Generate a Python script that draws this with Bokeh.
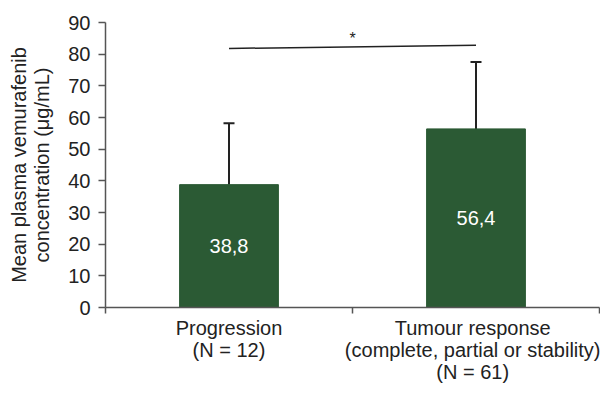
from bokeh.plotting import figure
from bokeh.models import FixedTicker, Range1d, Whisker, TeeHead, ColumnDataSource
from bokeh.core.properties import value
from bokeh.embed import file_html
from bokeh.resources import INLINE

# ---- data ----
categories = ["Progression", "Tumour response"]
tick_labels = ["Progression\n(N = 12)",
               "Tumour response\n(complete, partial or stability)\n(N = 61)"]
means = [38.8, 56.4]
err_upper = [58.2, 77.5]
value_labels = ["38,8", "56,4"]
sig_y = [81.8, 82.8]
sig_star_y = [85.0]
sig_label = ["*"]
y_ticks = [0, 10, 20, 30, 40, 50, 60, 70, 80, 90]

FONT = "Liberation Sans"
BAR = "#2b5a34"
INK = "#222222"
AX = "#555555"

xs = [i + 0.5 for i in range(len(categories))]
bounds = list(range(len(categories) + 1))

p = figure(width=600, height=385, output_backend="svg", toolbar_location=None,
           x_range=Range1d(0, len(categories)), y_range=Range1d(0, 90),
           min_border_left=105, min_border_right=1, min_border_top=22,
           min_border_bottom=10)
p.outline_line_color = None
p.xgrid.visible = False
p.ygrid.visible = False
p.background_fill_color = "white"
p.border_fill_color = "white"

src = ColumnDataSource(dict(x=xs, top=means, upper=err_upper,
                            mid=[m / 2 for m in means], lab=value_labels))

p.vbar(x="x", top="top", width=0.4, source=src, fill_color=BAR, line_color=BAR)

wh = Whisker(base="x", lower="top", upper="upper", source=src,
             upper_head=TeeHead(size=11, line_width=2, line_color=INK),
             lower_head=None, line_width=2, line_color=INK)
p.add_layout(wh)

p.text(x="x", y="mid", text="lab", source=src, text_color="white",
       text_font=value(FONT), text_font_size="20px",
       text_align="center", text_baseline="middle")

# significance bracket
p.line(x=xs, y=sig_y, line_color=INK, line_width=1.5)
p.text(x=[sum(xs) / len(xs)], y=sig_star_y, text=sig_label, text_color=INK,
       text_font=value(FONT), text_font_size="16px",
       text_align="center", text_baseline="middle")

# y axis
ya = p.yaxis[0]
ya.ticker = FixedTicker(ticks=y_ticks)
ya.axis_label = "Mean plasma vemurafenib\nconcentration (\u03bcg/mL)"
ya.axis_label_text_font = FONT
ya.axis_label_text_font_size = "20px"
ya.axis_label_text_font_style = "normal"
ya.axis_label_text_color = INK
ya.axis_label_text_line_height = 1.05
ya.axis_label_standoff = 12
ya.major_label_text_font = FONT
ya.major_label_text_font_size = "20px"
ya.major_label_text_color = INK
ya.major_label_standoff = 8
ya.axis_line_color = AX
ya.axis_line_width = 1.5
ya.major_tick_line_color = AX
ya.major_tick_line_width = 1.5
ya.major_tick_out = 7
ya.major_tick_in = 0
ya.minor_tick_line_color = None

# x axis
xa = p.xaxis[0]
xa.ticker = FixedTicker(ticks=xs, minor_ticks=bounds)
xa.major_label_overrides = {x: t for x, t in zip(xs, tick_labels)}
xa.major_label_text_font = FONT
xa.major_label_text_font_size = "20px"
xa.major_label_text_color = INK
xa.major_label_text_line_height = 1.0
xa.major_label_standoff = 3
xa.axis_line_color = AX
xa.axis_line_width = 1.5
xa.major_tick_line_color = None
xa.major_tick_out = 0
xa.major_tick_in = 0
xa.minor_tick_line_color = AX
xa.minor_tick_line_width = 1.5
xa.minor_tick_out = 6
xa.minor_tick_in = 0

open("out.html", "w").write(file_html(p, INLINE))
